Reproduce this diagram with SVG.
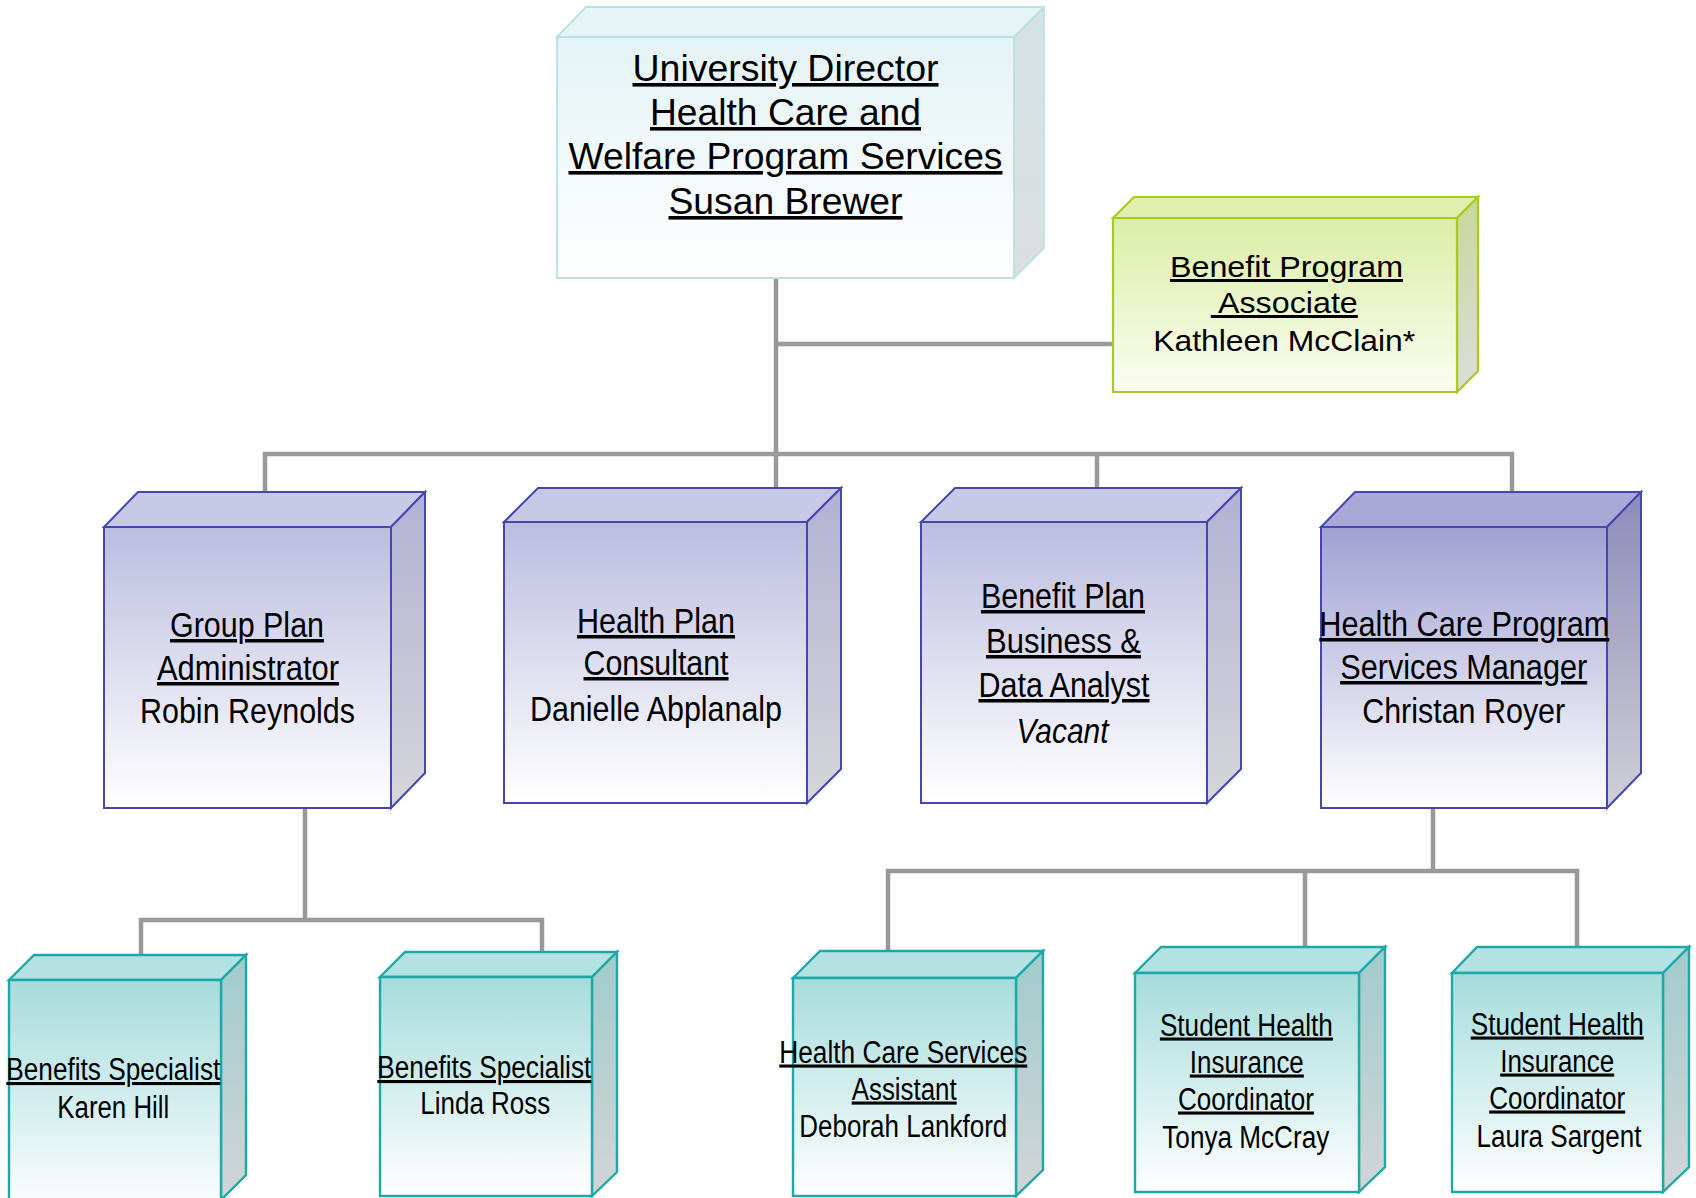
<svg xmlns="http://www.w3.org/2000/svg" width="1696" height="1198" viewBox="0 0 1696 1198">
<defs>
<linearGradient id="gTopF" x1="0" y1="0" x2="0" y2="1"><stop offset="0" stop-color="#e4f3f5"/><stop offset="1" stop-color="#ffffff"/></linearGradient>
<linearGradient id="gTopS" x1="0" y1="0" x2="0" y2="1"><stop offset="0" stop-color="#d4e2e4"/><stop offset="1" stop-color="#dcdedf"/></linearGradient>
<linearGradient id="gGrF" x1="0" y1="0" x2="0" y2="1"><stop offset="0" stop-color="#dbeea6"/><stop offset="1" stop-color="#fbfdf2"/></linearGradient>
<linearGradient id="gGrS" x1="0" y1="0" x2="0" y2="1"><stop offset="0" stop-color="#c9d79a"/><stop offset="1" stop-color="#dcdedc"/></linearGradient>
<linearGradient id="gPuF" x1="0" y1="0" x2="0" y2="1"><stop offset="0" stop-color="#bcbde0"/><stop offset="1" stop-color="#ffffff"/></linearGradient>
<linearGradient id="gPuS" x1="0" y1="0" x2="0" y2="1"><stop offset="0" stop-color="#b1b2d3"/><stop offset="1" stop-color="#d6d6da"/></linearGradient>
<linearGradient id="gPdF" x1="0" y1="0" x2="0" y2="1"><stop offset="0" stop-color="#a0a1d3"/><stop offset="1" stop-color="#ffffff"/></linearGradient>
<linearGradient id="gPdS" x1="0" y1="0" x2="0" y2="1"><stop offset="0" stop-color="#8c8cba"/><stop offset="1" stop-color="#d0d0d6"/></linearGradient>
<linearGradient id="gTeF" x1="0" y1="0" x2="0" y2="1"><stop offset="0" stop-color="#a6dcdc"/><stop offset="1" stop-color="#ffffff"/></linearGradient>
<linearGradient id="gTeS" x1="0" y1="0" x2="0" y2="1"><stop offset="0" stop-color="#a0cccd"/><stop offset="1" stop-color="#d2d5d7"/></linearGradient>
</defs>
<style>
.conn{fill:none;stroke:#999999;stroke-width:4.5;stroke-linejoin:miter}
.top .f{fill:url(#gTopF)} .top .t{fill:#e7f4f5} .top .s{fill:url(#gTopS)} .top polygon{stroke:#b9e1e5;stroke-width:1.8}
.grn .f{fill:url(#gGrF)} .grn .t{fill:#e0eeb0} .grn .s{fill:url(#gGrS)} .grn polygon{stroke:#a6cc1e;stroke-width:2.2}
.pur .f{fill:url(#gPuF)} .pur .t{fill:#c8c9e6} .pur .s{fill:url(#gPuS)} .pur polygon{stroke:#4646b0;stroke-width:2}
.pud .f{fill:url(#gPdF)} .pud .t{fill:#a9a9d8} .pud .s{fill:url(#gPdS)} .pud polygon{stroke:#4646b0;stroke-width:2}
.tea .f{fill:url(#gTeF)} .tea .t{fill:#b4e2e2} .tea .s{fill:url(#gTeS)} .tea polygon{stroke:#1ea8a8;stroke-width:2.4}
text{font-family:"Liberation Sans",Arial,sans-serif;fill:#000;text-anchor:middle}
.u{text-decoration:underline}
.it{font-style:italic}
.fs36{font-size:36px} .fs30{font-size:30px} .fs34{font-size:35px} .fs29{font-size:31px}
</style>

<g id="connectors">
<path class="conn" d="M776,279 V488"/>
<path class="conn" d="M776,344 H1113"/>
<path class="conn" d="M265,492 V454 H1512 V492"/>
<path class="conn" d="M1097,454 V488"/>
<path class="conn" d="M305,808 V920"/>
<path class="conn" d="M141,956 V920 H542 V951"/>
<path class="conn" d="M1433,808 V871"/>
<path class="conn" d="M888,952 V871 H1577 V947"/>
<path class="conn" d="M1305,947 V871"/>
</g>

<g id="n-director" class="top">
<polygon class="t" points="557,37 586,7 1044,7 1014,37"/>
<polygon class="s" points="1014,37 1044,7 1044,248 1014,278"/>
<polygon class="f" points="557,37 1014,37 1014,278 557,278"/>
<text class="fs36 u" x="785.5" y="81" textLength="306" lengthAdjust="spacingAndGlyphs">University Director</text>
<text class="fs36 u" x="785.5" y="125" textLength="271" lengthAdjust="spacingAndGlyphs">Health Care and</text>
<text class="fs36 u" x="785.5" y="169" textLength="434" lengthAdjust="spacingAndGlyphs">Welfare Program Services</text>
<text class="fs36 u" x="785.5" y="214" textLength="234" lengthAdjust="spacingAndGlyphs">Susan Brewer</text>
</g>

<g id="n-associate" class="grn">
<polygon class="t" points="1113,218 1134,197 1478,197 1457,218"/>
<polygon class="s" points="1457,218 1478,197 1478,371 1457,392"/>
<polygon class="f" points="1113,218 1457,218 1457,392 1113,392"/>
<text class="fs30 u" x="1286.5" y="277" textLength="233" lengthAdjust="spacingAndGlyphs">Benefit Program</text>
<text class="fs30 u" x="1284.3" y="313" textLength="147" lengthAdjust="spacingAndGlyphs" xml:space="preserve"> Associate</text>
<text class="fs30" x="1284.2" y="350.5" textLength="262" lengthAdjust="spacingAndGlyphs">Kathleen McClain*</text>
</g>

<g id="n-groupplan" class="pur">
<polygon class="t" points="104,527 138,492 425,492 391,527"/>
<polygon class="s" points="391,527 425,492 425,773 391,808"/>
<polygon class="f" points="104,527 391,527 391,808 104,808"/>
<text class="fs34 u" x="247" y="637" textLength="154" lengthAdjust="spacingAndGlyphs">Group Plan</text>
<text class="fs34 u" x="248" y="680" textLength="182" lengthAdjust="spacingAndGlyphs">Administrator</text>
<text class="fs34" x="247.5" y="723" textLength="215" lengthAdjust="spacingAndGlyphs">Robin Reynolds</text>
</g>

<g id="n-healthplan" class="pur">
<polygon class="t" points="504,522 538,488 841,488 807,522"/>
<polygon class="s" points="807,522 841,488 841,769 807,803"/>
<polygon class="f" points="504,522 807,522 807,803 504,803"/>
<text class="fs34 u" x="656" y="633" textLength="158" lengthAdjust="spacingAndGlyphs">Health Plan</text>
<text class="fs34 u" x="656" y="675" textLength="145" lengthAdjust="spacingAndGlyphs">Consultant</text>
<text class="fs34" x="656" y="721" textLength="252" lengthAdjust="spacingAndGlyphs">Danielle Abplanalp</text>
</g>

<g id="n-analyst" class="pur">
<polygon class="t" points="921,522 955,488 1241,488 1207,522"/>
<polygon class="s" points="1207,522 1241,488 1241,769 1207,803"/>
<polygon class="f" points="921,522 1207,522 1207,803 921,803"/>
<text class="fs34 u" x="1063" y="608" textLength="164" lengthAdjust="spacingAndGlyphs">Benefit Plan</text>
<text class="fs34 u" x="1063.5" y="653" textLength="155" lengthAdjust="spacingAndGlyphs">Business &amp;</text>
<text class="fs34 u" x="1064" y="697" textLength="171" lengthAdjust="spacingAndGlyphs">Data Analyst</text>
<text class="fs34 it" x="1062.5" y="743" textLength="92" lengthAdjust="spacingAndGlyphs">Vacant</text>
</g>

<g id="n-manager" class="pud">
<polygon class="t" points="1321,527 1355,492 1641,492 1607,527"/>
<polygon class="s" points="1607,527 1641,492 1641,773 1607,808"/>
<polygon class="f" points="1321,527 1607,527 1607,808 1321,808"/>
<text class="fs34 u" x="1464.3" y="636" textLength="290" lengthAdjust="spacingAndGlyphs">Health Care Program</text>
<text class="fs34 u" x="1463.7" y="679" textLength="247" lengthAdjust="spacingAndGlyphs">Services Manager</text>
<text class="fs34" x="1463.7" y="723" textLength="203" lengthAdjust="spacingAndGlyphs">Christan Royer</text>
</g>

<g id="n-karen" class="tea">
<polygon class="t" points="9,980 34,955 246,955 221,980"/>
<polygon class="s" points="221,980 246,955 246,1175 221,1200"/>
<polygon class="f" points="9,980 221,980 221,1215 9,1215"/>
<text class="fs29 u" x="113.3" y="1080" textLength="214" lengthAdjust="spacingAndGlyphs">Benefits Specialist</text>
<text class="fs29" x="113.3" y="1117.5" textLength="112" lengthAdjust="spacingAndGlyphs">Karen Hill</text>
</g>

<g id="n-linda" class="tea">
<polygon class="t" points="380,977 405,952 617,952 592,977"/>
<polygon class="s" points="592,977 617,952 617,1172 592,1196"/>
<polygon class="f" points="380,977 592,977 592,1196 380,1196"/>
<text class="fs29 u" x="484.3" y="1078" textLength="214" lengthAdjust="spacingAndGlyphs">Benefits Specialist</text>
<text class="fs29" x="485.3" y="1114" textLength="130" lengthAdjust="spacingAndGlyphs">Linda Ross</text>
</g>

<g id="n-deborah" class="tea">
<polygon class="t" points="793,978 820,951 1043,951 1016,978"/>
<polygon class="s" points="1016,978 1043,951 1043,1170 1016,1196"/>
<polygon class="f" points="793,978 1016,978 1016,1196 793,1196"/>
<text class="fs29 u" x="903.3" y="1062.5" textLength="248" lengthAdjust="spacingAndGlyphs">Health Care Services</text>
<text class="fs29 u" x="904.2" y="1099.5" textLength="105" lengthAdjust="spacingAndGlyphs">Assistant</text>
<text class="fs29" x="903.3" y="1136.5" textLength="208" lengthAdjust="spacingAndGlyphs">Deborah Lankford</text>
</g>

<g id="n-tonya" class="tea">
<polygon class="t" points="1135,973 1161,947 1385,947 1359,973"/>
<polygon class="s" points="1359,973 1385,947 1385,1167 1359,1192"/>
<polygon class="f" points="1135,973 1359,973 1359,1192 1135,1192"/>
<text class="fs29 u" x="1246.4" y="1035.5" textLength="173" lengthAdjust="spacingAndGlyphs">Student Health</text>
<text class="fs29 u" x="1246.8" y="1072.5" textLength="114" lengthAdjust="spacingAndGlyphs">Insurance</text>
<text class="fs29 u" x="1246" y="1109.5" textLength="136" lengthAdjust="spacingAndGlyphs">Coordinator</text>
<text class="fs29" x="1245.8" y="1148" textLength="167" lengthAdjust="spacingAndGlyphs">Tonya McCray</text>
</g>

<g id="n-laura" class="tea">
<polygon class="t" points="1452,973 1477,947 1689,947 1663,973"/>
<polygon class="s" points="1663,973 1689,947 1689,1167 1663,1192"/>
<polygon class="f" points="1452,973 1663,973 1663,1192 1452,1192"/>
<text class="fs29 u" x="1557.2" y="1034.5" textLength="173" lengthAdjust="spacingAndGlyphs">Student Health</text>
<text class="fs29 u" x="1557.2" y="1071.5" textLength="114" lengthAdjust="spacingAndGlyphs">Insurance</text>
<text class="fs29 u" x="1557.2" y="1108.5" textLength="136" lengthAdjust="spacingAndGlyphs">Coordinator</text>
<text class="fs29" x="1559" y="1147" textLength="165" lengthAdjust="spacingAndGlyphs">Laura Sargent</text>
</g>
</svg>
